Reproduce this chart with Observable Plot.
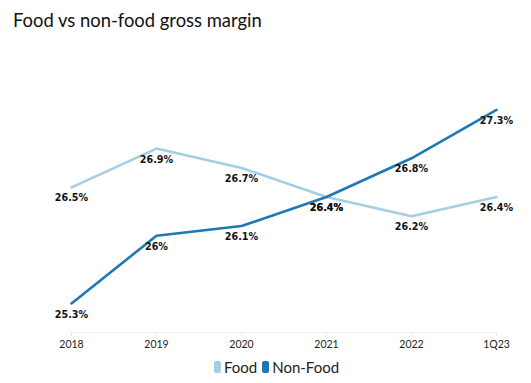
<!DOCTYPE html>
<html>
<head>
<meta charset="utf-8">
<script src="https://cdn.jsdelivr.net/npm/d3@7"></script>
<script src="https://cdn.jsdelivr.net/npm/@observablehq/plot@0.6"></script>
<style>
  body { margin: 0; background: #fff; width: 531px; height: 383px; overflow: hidden; font-family: Lato, "Open Sans", sans-serif; }
  #title { height: 40px; padding-left: 13px; font-size: 18.4px; line-height: 40px; color: #111; box-sizing: border-box; }
  #legend { display: flex; justify-content: center; align-items: center; gap: 5px; font-size: 15px; color: #222; height: 33px; padding-left: 22px; }
  .sw { display: inline-block; width: 7px; height: 12px; border-radius: 2px; margin-right: 3px; vertical-align: middle; }
  .item { display: flex; align-items: center; }
</style>
</head>
<body>
<div id="title">Food vs non-food gross margin</div>
<div id="chart"></div>
<div id="legend"></div>
<script>
const periods = ["2018", "2019", "2020", "2021", "2022", "1Q23"];
const food = [26.5, 26.9, 26.7, 26.4, 26.2, 26.4];
const nonFood = [25.3, 26.0, 26.1, 26.4, 26.8, 27.3];
const seriesNames = ["Food", "Non-Food"];
const seriesColors = ["#a6cee3", "#1f78b4"];

const rows = [];
periods.forEach((p, i) => {
  rows.push({period: p, value: food[i], series: seriesNames[0]});
  rows.push({period: p, value: nonFood[i], series: seriesNames[1]});
});

const chart = Plot.plot({
  width: 531,
  height: 310,
  marginLeft: 69,
  marginRight: 34,
  marginTop: 21,
  marginBottom: 18,
  style: {fontFamily: "Lato, 'Open Sans', sans-serif", background: "#fff"},
  x: {type: "point", domain: periods, padding: 0, label: null},
  y: {domain: [25, 27.8], axis: null},
  color: {domain: seriesNames, range: seriesColors},
  marks: [
    Plot.ruleY([25], {stroke: "#eeeeee", strokeWidth: 1}),
    Plot.axisX({tickSize: 4, tickPadding: 4, stroke: "#e6e6e6", fill: "#222", fontSize: 10.5, label: null}),
    Plot.lineY(rows, {x: "period", y: "value", z: "series", stroke: "series", strokeWidth: 2.6}),
    Plot.text(rows, {x: "period", y: "value", text: d => d.value + "%", dy: 11, fill: "#111", fontWeight: "bold", fontSize: 9.6, fontFamily: "'DejaVu Sans', sans-serif"})
  ]
});
document.getElementById("chart").appendChild(chart);

const legend = document.getElementById("legend");
seriesNames.forEach((name, i) => {
  const item = document.createElement("span");
  item.className = "item";
  const sw = document.createElement("span");
  sw.className = "sw";
  sw.style.background = seriesColors[i];
  item.appendChild(sw);
  item.appendChild(document.createTextNode(name));
  legend.appendChild(item);
});
</script>
</body>
</html>
